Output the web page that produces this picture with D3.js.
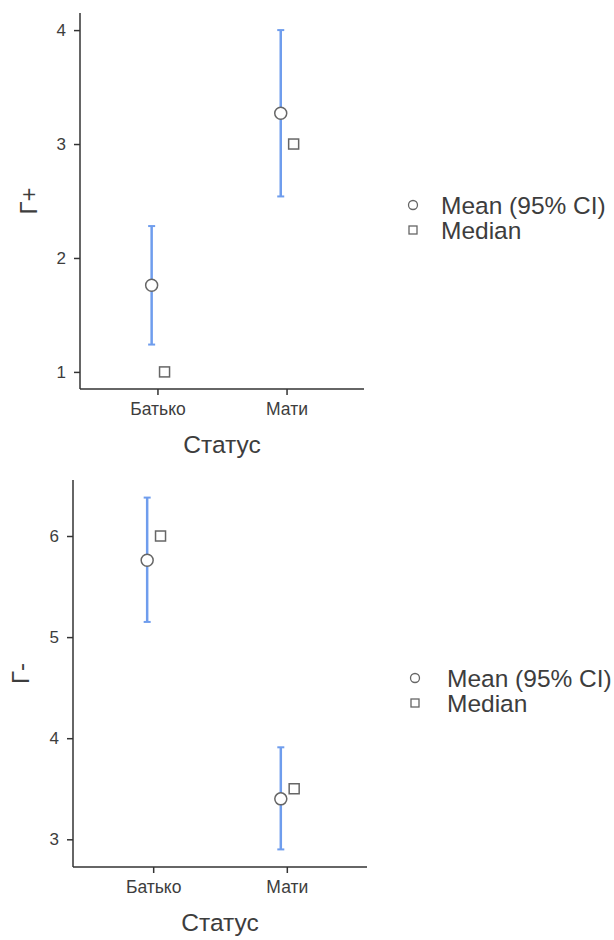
<!DOCTYPE html>
<html><head><meta charset="utf-8">
<script src="https://cdn.jsdelivr.net/npm/d3@7"></script>
<style>
body{margin:0;background:#fff;}
text{font-family:"Liberation Sans",Arial,sans-serif;}
</style></head>
<body><svg id="c" width="614" height="940"></svg>
<script>
const categories = ["Батько", "Мати"];
const xTitle = "Статус";
const gPlusMean = [1.76, 3.27];
const gPlusLower = [1.24, 2.54];
const gPlusUpper = [2.28, 4.00];
const gPlusMedian = [1, 3];
const gPlusTicks = [1, 2, 3, 4];
const gMinusMean = [5.76, 3.40];
const gMinusLower = [5.15, 2.90];
const gMinusUpper = [6.38, 3.91];
const gMinusMedian = [6, 3.5];
const gMinusTicks = [3, 4, 5, 6];
const legendLabels = ["Mean (95% CI)", "Median"];

const svg = d3.select("#c");
const textCol = "#3d3d3d", axisCol = "#333", barCol = "#6f9ded", ptCol = "#666";

function panel(cfg) {
  const g = svg.append("g");
  const all = cfg.lower.concat(cfg.upper, cfg.median, cfg.mean);
  const lo = d3.min(all), hi = d3.max(all), pad = (hi - lo) * 0.05;
  const y = d3.scaleLinear().domain([lo - pad, hi + pad]).range([cfg.bottom, cfg.top]);
  const x = d3.scaleLinear().domain([0.4, categories.length + 0.6]).range([cfg.left, cfg.right]);

  const ya = g.append("g").attr("transform", `translate(${cfg.left},0)`)
    .call(d3.axisLeft(y).tickValues(cfg.ticks).tickSize(6).tickPadding(8).tickFormat(d3.format("d")));
  ya.select(".domain").attr("d", `M0,${cfg.bottom}V${cfg.top}`);
  const xa = g.append("g").attr("transform", `translate(0,${cfg.bottom})`)
    .call(d3.axisBottom(x).tickValues(categories.map((c, i) => i + 1)).tickSize(6).tickPadding(8)
      .tickFormat((d) => categories[d - 1]));
  xa.select(".domain").attr("d", `M${cfg.left},0H${cfg.right}`);
  [ya, xa].forEach(a => {
    a.attr("font-family", '"Liberation Sans",Arial,sans-serif');
    a.selectAll(".domain,.tick line").attr("stroke", axisCol).attr("stroke-width", 1.5);
    a.selectAll(".tick text").attr("fill", textCol);
  });
  ya.selectAll(".tick text").style("font-size", "17px");
  xa.selectAll(".tick text").style("font-size", "17.5px");

  g.append("text").attr("x", (cfg.left + cfg.right) / 2).attr("y", cfg.bottom + 64)
    .attr("text-anchor", "middle").attr("font-size", 24.5).attr("fill", textCol).text(xTitle);
  g.append("text").attr("transform", `translate(${cfg.ytx},${(cfg.top + cfg.bottom) / 2}) rotate(-90)`)
    .attr("text-anchor", "middle").attr("font-size", 24).attr("fill", textCol).text(cfg.yTitle);

  const meanOff = -0.045, medOff = 0.055;
  const eb = g.selectAll(".eb").data(categories).enter().append("g");
  eb.append("line").attr("x1", (d, i) => x(i + 1 + meanOff)).attr("x2", (d, i) => x(i + 1 + meanOff))
    .attr("y1", (d, i) => y(cfg.lower[i])).attr("y2", (d, i) => y(cfg.upper[i]))
    .attr("stroke", barCol).attr("stroke-width", 2.5);
  ["lower", "upper"].forEach(k => {
    eb.append("line").attr("x1", (d, i) => x(i + 1 + meanOff) - 3.5).attr("x2", (d, i) => x(i + 1 + meanOff) + 3.5)
      .attr("y1", (d, i) => y(cfg[k][i])).attr("y2", (d, i) => y(cfg[k][i]))
      .attr("stroke", barCol).attr("stroke-width", 2);
  });
  g.selectAll(".med").data(cfg.median).enter().append("rect")
    .attr("x", (d, i) => x(i + 1 + medOff) - 5).attr("y", d => y(d) - 5)
    .attr("width", 10).attr("height", 10).attr("fill", "#fff").attr("stroke", ptCol).attr("stroke-width", 1.5);
  g.selectAll(".mean").data(cfg.mean).enter().append("circle")
    .attr("cx", (d, i) => x(i + 1 + meanOff)).attr("cy", d => y(d)).attr("r", 6)
    .attr("fill", "#fff").attr("stroke", ptCol).attr("stroke-width", 1.5);

  const lg = g.append("g").attr("transform", `translate(${cfg.legX},${cfg.legY})`);
  lg.append("circle").attr("cx", 0).attr("cy", 0).attr("r", 4.5).attr("fill", "#fff").attr("stroke", ptCol).attr("stroke-width", 1.3);
  lg.append("rect").attr("x", -4).attr("y", 21).attr("width", 8).attr("height", 8).attr("fill", "#fff").attr("stroke", ptCol).attr("stroke-width", 1.3);
  lg.selectAll(".lt").data(legendLabels).enter().append("text")
    .attr("x", cfg.legTx).attr("y", (d, i) => i * 25).attr("dy", "0.35em")
    .attr("font-size", 24.5).attr("fill", textCol).text(d => d);
}

panel({ left: 80, right: 364, top: 13, bottom: 389, ytx: 37, yTitle: "Г+",
  mean: gPlusMean, lower: gPlusLower, upper: gPlusUpper, median: gPlusMedian, ticks: gPlusTicks,
  legX: 413, legY: 205, legTx: 28 });
panel({ left: 73, right: 367, top: 480, bottom: 867, ytx: 29, yTitle: "Г-",
  mean: gMinusMean, lower: gMinusLower, upper: gMinusUpper, median: gMinusMedian, ticks: gMinusTicks,
  legX: 415, legY: 678, legTx: 32 });
</script></body></html>
